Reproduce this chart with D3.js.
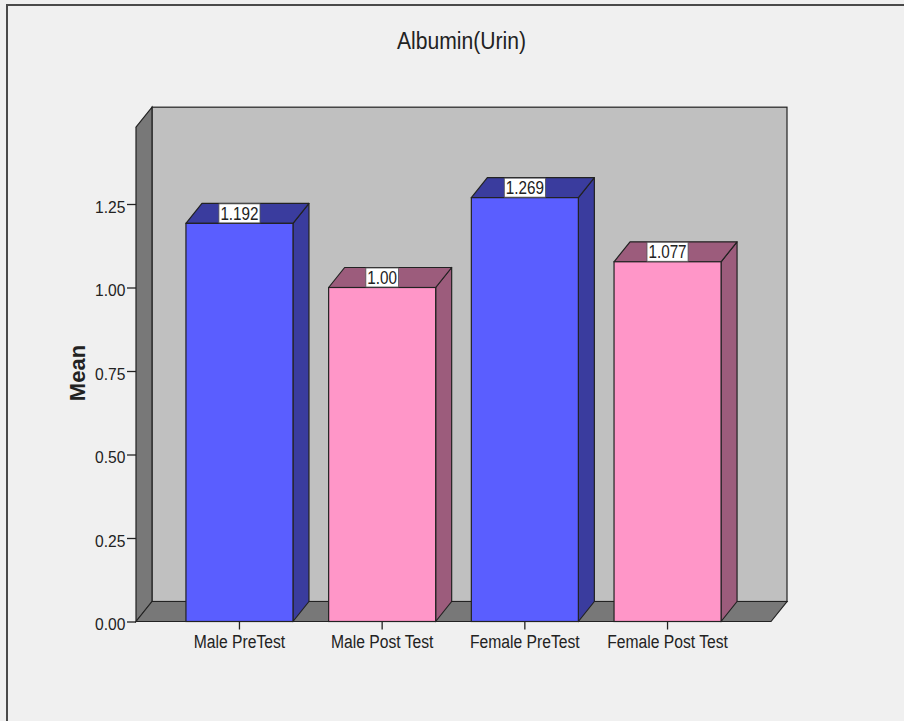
<!DOCTYPE html>
<html>
<head>
<meta charset="utf-8">
<script src="https://cdn.jsdelivr.net/npm/d3@7"></script>
<style>
  html, body { margin: 0; padding: 0; background: #f0f0f0; }
  svg { display: block; }
  text { font-family: Arial, "Liberation Sans", sans-serif; fill: #222; }
</style>
</head>
<body>
<script>
// Chart data
const categories = ["Male PreTest", "Male Post Test", "Female PreTest", "Female Post Test"];
const meanValues = [1.192, 1.00, 1.269, 1.077];
const valueLabels = ["1.192", "1.00", "1.269", "1.077"];
const yTicks = [0, 0.25, 0.5, 0.75, 1.0, 1.25];
const chartTitle = "Albumin(Urin)";
const yTitle = "Mean";

const W = 904, H = 721;
const svg = d3.select("body").append("svg").attr("width", W).attr("height", H);

// Outer chart frame
svg.append("rect").attr("x", 7).attr("y", 5).attr("width", W + 10).attr("height", H + 10)
  .attr("fill", "#f0f0f0").attr("stroke", "#4a4a4a").attr("stroke-width", 2);

// Plot geometry (front plane) and 3D depth offset
const left = 136, right = 771, bottom = 621.5;
const dx = 16, dy = -20;
const yMax = 1.48;
const narrow = 0.87; // horizontal squeeze for a condensed look

const y = d3.scaleLinear().domain([0, yMax]).range([bottom, bottom - yMax * 334]);
const x = d3.scaleBand().domain(categories).range([left, right])
  .paddingInner(0.25).paddingOuter(0.35);

const edge = "#222";

// Back wall
svg.append("rect")
  .attr("x", left + dx).attr("y", y(yMax) + dy)
  .attr("width", right - left).attr("height", y(0) - y(yMax))
  .attr("fill", "#c0c0c0").attr("stroke", edge).attr("stroke-width", 1.2);

// Left side wall
svg.append("polygon")
  .attr("points", [[left, y(yMax)], [left + dx, y(yMax) + dy], [left + dx, y(0) + dy], [left, y(0)]].join(" "))
  .attr("fill", "#787878").attr("stroke", edge).attr("stroke-width", 1.2);

// Floor
svg.append("polygon")
  .attr("points", [[left, y(0)], [left + dx, y(0) + dy], [right + dx, y(0) + dy], [right, y(0)]].join(" "))
  .attr("fill", "#787878").attr("stroke", edge).attr("stroke-width", 1.2);

// Bars
const palette = [
  { front: "#5a5eff", shade: "#3a3c9e" },
  { front: "#ff96c8", shade: "#9c5c7c" }
];
const bars = svg.append("g").selectAll("g").data(categories).join("g");
bars.each(function (c, i) {
  const g = d3.select(this);
  const col = palette[i % 2];
  const x0 = x(c), x1 = x(c) + x.bandwidth();
  const yt = y(meanValues[i]), yb = y(0);
  // side face
  g.append("polygon")
    .attr("points", [[x1, yt], [x1 + dx, yt + dy], [x1 + dx, yb + dy], [x1, yb]].join(" "))
    .attr("fill", col.shade).attr("stroke", edge).attr("stroke-width", 1.2).attr("stroke-linejoin", "round");
  // top face
  g.append("polygon")
    .attr("points", [[x0, yt], [x0 + dx, yt + dy], [x1 + dx, yt + dy], [x1, yt]].join(" "))
    .attr("fill", col.shade).attr("stroke", edge).attr("stroke-width", 1.2).attr("stroke-linejoin", "round");
  // front face
  g.append("rect")
    .attr("x", x0).attr("y", yt).attr("width", x1 - x0).attr("height", yb - yt)
    .attr("fill", col.front).attr("stroke", edge).attr("stroke-width", 1.2);
  // value label box on the top face
  const cx = x0 + x.bandwidth() / 2;
  const lg = g.append("g").attr("transform", `translate(${cx},${yt - 3.4})`);
  const t = lg.append("text")
    .attr("transform", `scale(${narrow},1)`)
    .attr("text-anchor", "middle").attr("font-size", 17.5)
    .text(valueLabels[i]);
  const w = t.node().getBBox().width * narrow;
  g.insert("rect", "g")
    .attr("x", cx - w / 2 - 1.5).attr("y", yt + dy + 0.5)
    .attr("width", w + 3).attr("height", -dy - 1)
    .attr("fill", "#fff").attr("stroke", "#555").attr("stroke-width", 0.8);
});

// Y axis
const yAxis = svg.append("g").attr("transform", `translate(${left},0)`)
  .call(d3.axisLeft(y).tickValues(yTicks).tickFormat(d3.format(".2f")).tickSize(9).tickPadding(2));
yAxis.select(".domain").remove();
yAxis.selectAll(".tick line").attr("stroke", "#222").attr("stroke-width", 1.3);
yAxis.selectAll(".tick text")
  .attr("font-size", 17).attr("fill", "#222")
  .attr("font-family", "Arial, 'Liberation Sans', sans-serif")
  .attr("dy", 8.3).attr("x", -11.5)
  .attr("transform", "scale(0.92,1)");

// X axis
const xAxis = svg.append("g").attr("transform", `translate(0,${bottom})`)
  .call(d3.axisBottom(x).tickSize(8).tickPadding(4));
xAxis.select(".domain").remove();
xAxis.selectAll(".tick line").attr("stroke", "#222").attr("stroke-width", 1.3);
xAxis.selectAll(".tick text")
  .attr("font-size", 18).attr("fill", "#222")
  .attr("font-family", "Arial, 'Liberation Sans', sans-serif")
  .attr("y", 26.5).attr("dy", 0)
  .attr("transform", `scale(${narrow},1)`);

// Titles
svg.append("g").attr("transform", "translate(461.5,49.3)")
  .append("text").attr("transform", "scale(0.88,1)")
  .attr("text-anchor", "middle").attr("font-size", 24).text(chartTitle);

svg.append("text")
  .attr("transform", "translate(85,373) rotate(-90)")
  .attr("text-anchor", "middle").attr("font-size", 22).attr("font-weight", "bold")
  .text(yTitle);
</script>
</body>
</html>
